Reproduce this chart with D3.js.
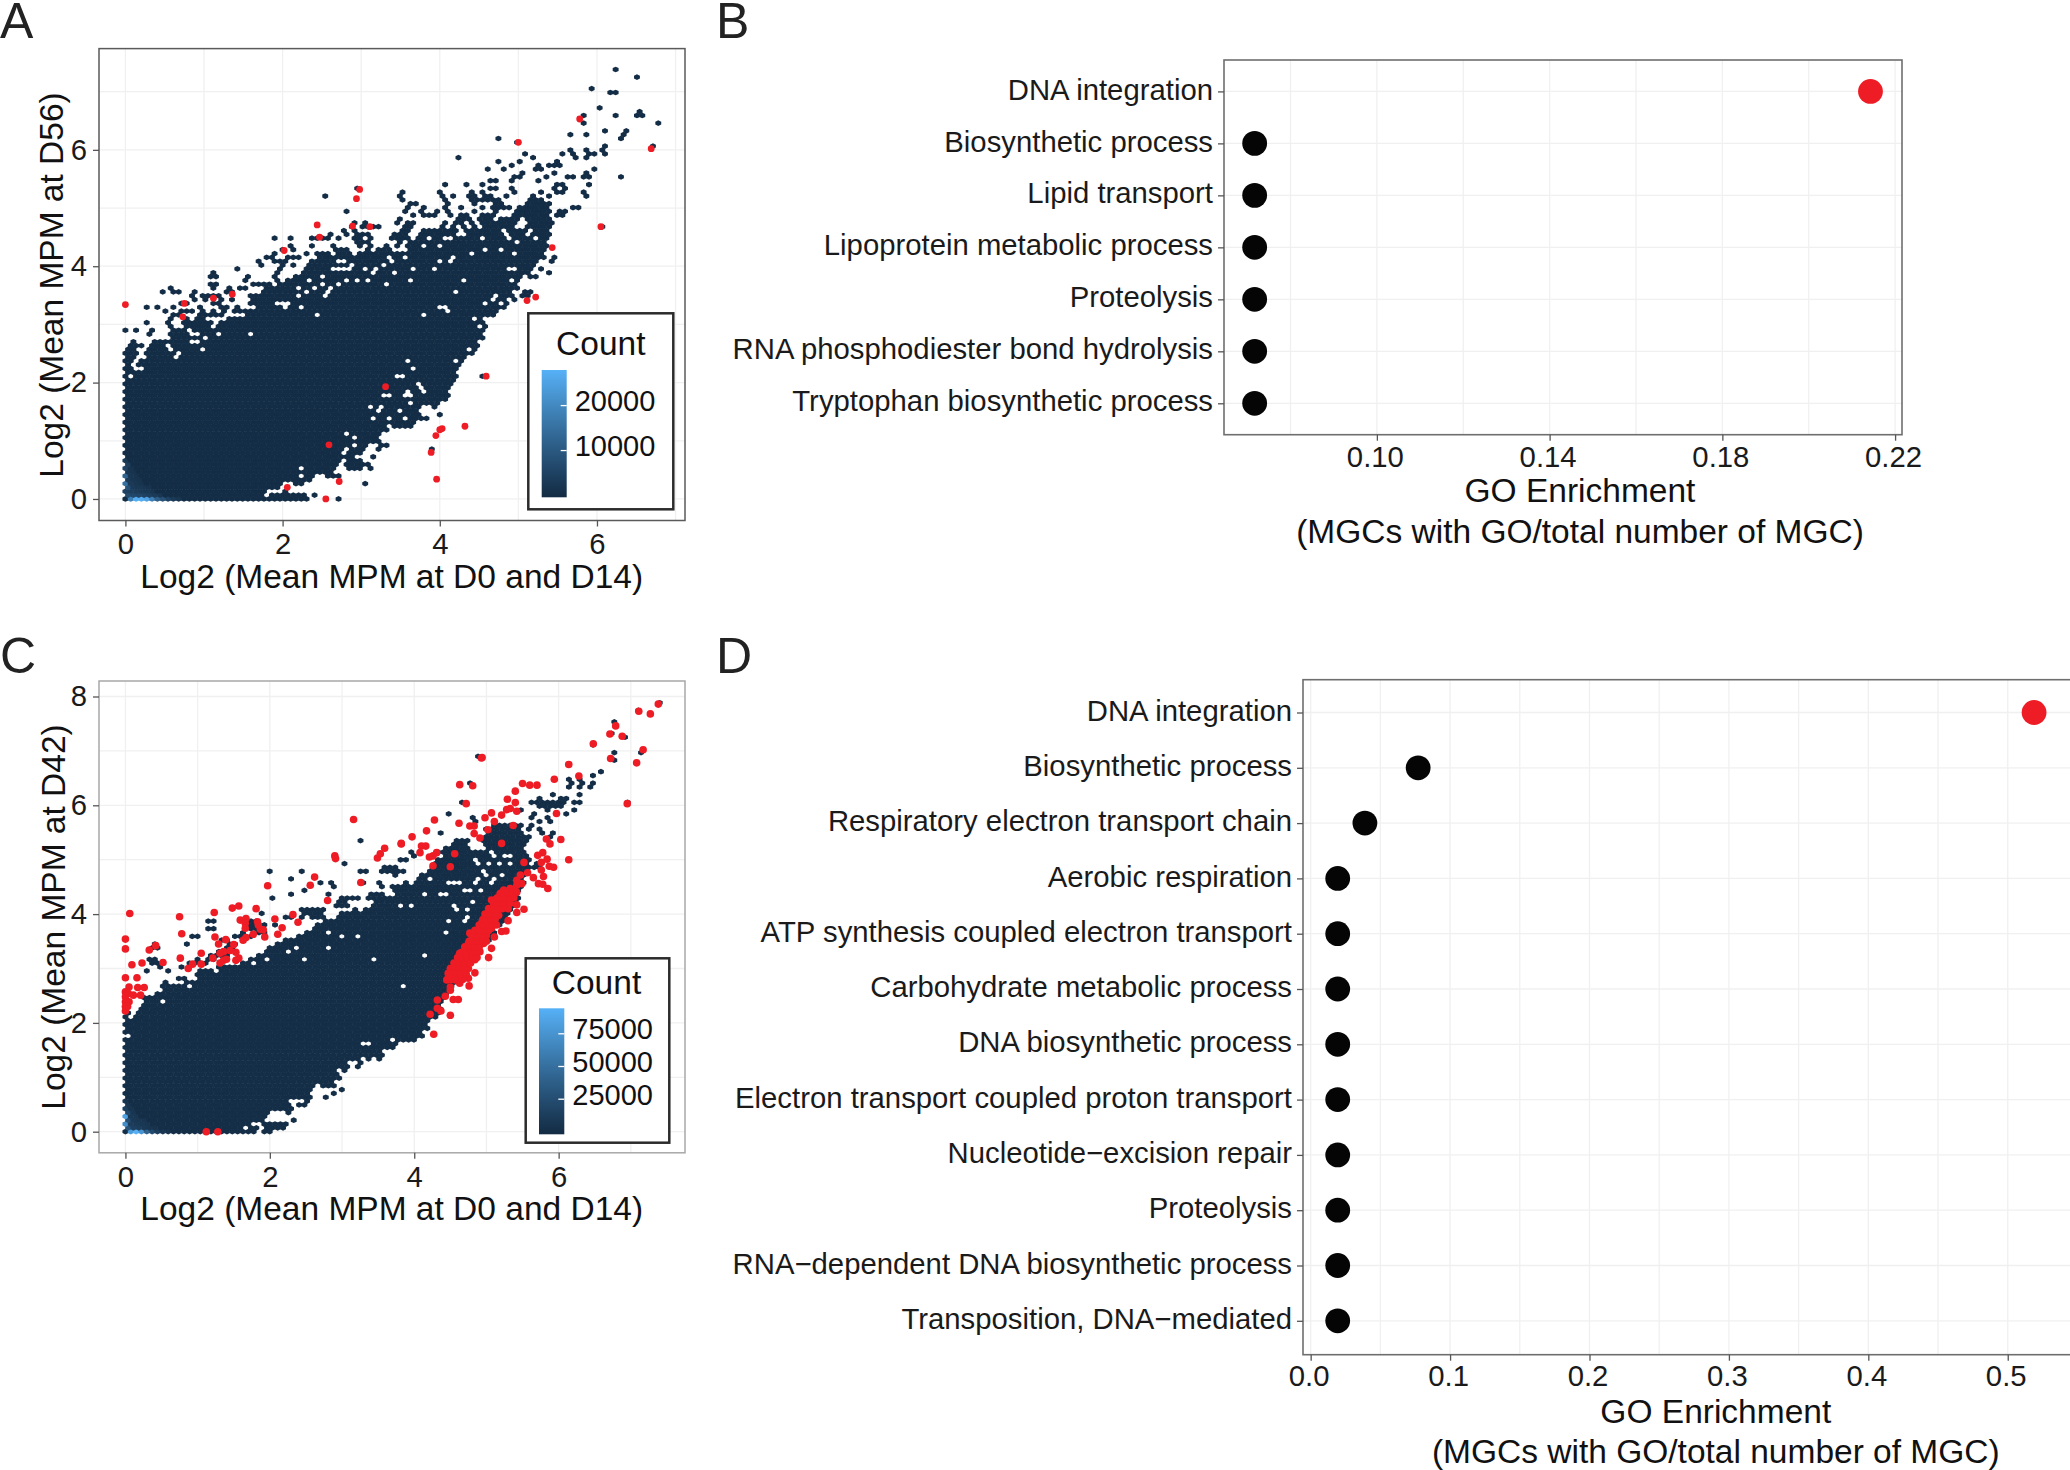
<!DOCTYPE html>
<html lang="en">
<head>
<meta charset="UTF-8">
<title>MGC expression and GO enrichment</title>
<script src="https://d3js.org/d3.v7.min.js"></script>
<style>
  html, body { margin: 0; padding: 0; background: #fff; }
  text { font-family: "Liberation Sans", Arial, sans-serif; }
</style>
</head>
<body>
<div id="figure"></div>
<script>
// ---- panel A: hex rows, bottom row first, each row is a list of x start/end pairs
const bodyA = [
[0,2.3],[0,1.67,1.72,1.72,1.85,2.3],[0,1.75,2.03,2.03],[0,1.9],[0,2.0,2.2,2.25],[0,2.17,2.27,2.32],
[0,2.15,2.28,2.38,2.55,2.68],[0,2.4,2.5,2.62],[0,2.18,2.26,2.65,2.88,2.95,3.11,3.11],[0,2.68,2.82,2.95,3.05,3.08],
[0,2.72,2.85,2.95],[0,2.78,2.87,2.9,3.13,3.16],[0,2.72,2.85,2.98],[0,2.75,2.9,3.02,3.2,3.2],
[0,2.7,2.78,2.88,2.95,3.05,3.28,3.32],[0,2.72,2.82,3.02,3.1,3.2],[0,2.85,2.95,3.2],[0,2.95,3.0,3.1,3.15,3.25],
[0,2.95,3.05,3.15,3.22,3.3],[0,3.0,3.1,3.3,3.45,3.62],[0,3.05,3.12,3.3,3.38,3.66],[0,3.1,3.2,3.32,3.4,3.48,3.62,3.8],
[0,3.15,3.22,3.35,3.42,3.5,3.6,3.7,4.01,4.01],[0,3.18,3.28,3.42,3.55,3.7],[0,3.2,3.3,3.6,3.68,3.72,3.95,3.95],
[0,3.25,3.32,3.55,3.7,4.0],[0,3.28,3.35,3.52,3.6,3.65,3.75,3.85,3.95,4.1],[0,3.32,3.4,3.55,3.7,4.1],
[0,3.35,3.42,3.6,3.65,3.75,3.85,4.1],[0,3.4,3.5,3.72,3.82,4.12],[0,3.58,3.62,4.15],[0,3.6,3.65,4.15],
[0,.06,.15,4.18],[0,4.2],[0,.08,.27,4.22],[0,.02,.17,4.25],[0,.1,.22,4.28],[0,.12,.3,4.33],
[0,0,.1,.15,.3,.6,.72,4.38],[0,0,.1,.12,.3,.5,.65,4.42],[.1,.2,.33,.47,.63,4.47],[.12,.12,.35,.5,.57,.88,.95,4.5],
[.6,.86,.95,4.53],[.33,.33,.6,.75,1.0,4.52],[0,0,.13,.13,.33,.33,.6,.66,.7,.75,.85,4.55],[.55,.55,.75,4.55],
[.27,.27,.55,.55,.75,1.1,1.2,4.53],[.58,.58,.75,.75,.9,1.0,1.35,4.6],[.6,.6,.68,.68,.95,1.2,1.55,4.68],
[.5,.5,.7,.78,.82,.82,.95,.95,1.1,1.15,1.25,1.25,1.4,1.45,1.55,4.72],
[.27,.27,.4,.4,.58,.58,.95,.95,1.22,1.27,1.45,1.45,1.7,4.8],[.7,.7,.75,.75,1.1,1.18,1.6,4.85],
[.85,.85,1.22,1.25,1.35,1.38,1.6,4.8,4.93,4.93],[1.0,1.05,1.15,1.2,1.62,4.75,4.85,4.9,5.06,5.1],
[.45,.45,.7,.7,.85,.9,1.35,1.35,1.78,4.85,5.06,5.13],[.55,.55,1.15,1.15,1.3,1.3,1.5,1.55,1.8,4.95],
[1.1,1.15,1.65,1.75,1.95,2.1,2.2,4.98],[2.1,5.0],[1.1,1.13,1.9,1.92,2.15,5.05,5.13,5.2],[1.15,1.15,1.9,1.95,2.25,5.1,5.36,5.36],
[1.4,1.45,1.95,2.0,2.3,5.15,5.27,5.27],[1.7,1.75,2.0,2.0,2.33,5.2],[1.68,1.72,2.02,2.05,2.4,5.25,5.4,5.4],
[1.8,1.85,2.1,2.15,2.45,5.3,5.44,5.44],[1.9,1.9,2.3,2.3,2.45,2.6,2.72,2.88,3.0,3.1,3.15,3.2,3.28,3.28,3.35,5.3],
[2.0,2.0,2.65,2.65,2.75,2.75,2.8,2.8,3.1,3.1,3.2,3.35,3.6,5.35],
[2.35,2.35,2.65,2.65,2.95,2.95,3.1,3.1,3.3,3.3,3.45,3.48,3.6,3.75,3.85,5.3,5.38,5.38],
[3.11,3.11,3.47,3.47,3.66,3.83,3.92,4.55,4.64,5.3],
[2.43,2.43,2.5,2.55,2.95,3.0,3.41,3.56,3.73,3.83,3.94,4.02,4.23,4.47,4.62,4.81,4.93,5.17,5.29,5.38],
[2.6,2.6,3.0,3.0,3.11,3.11,3.47,3.58,3.77,3.83,3.89,4.08,4.15,4.2,4.36,4.47,4.53,4.76,4.89,5.06,5.19,5.38],
[2.77,2.77,2.9,2.9,3.5,3.58,3.77,3.83,3.89,4.08,4.15,4.2,4.36,4.47,4.53,4.76,4.89,5.06,5.19,5.34],
[2.9,2.9,3.02,3.05,3.12,3.16,3.58,3.66,4.04,4.04,4.17,4.17,4.3,4.3,4.43,4.43,4.55,4.64,4.74,4.9,5.15,5.3,5.38,5.38],
[3.06,3.06,3.58,3.68,4.1,4.1,4.23,4.3,4.38,4.38,4.51,4.68,4.74,4.95,5.15,5.23,5.32,5.4],
[3.47,3.47,4.23,4.3,4.38,4.38,4.53,4.66,4.8,4.95,5.1,5.27,5.34,5.4],
[3.68,3.68,3.83,3.96,4.15,4.15,4.3,4.36,4.53,4.66,4.93,5.06,5.1,5.27,5.36,5.36,5.5,5.55],
[3.58,3.58,3.79,3.79,3.95,3.95,4.1,4.1,4.43,4.43,4.72,4.72,5.0,5.1,5.12,5.36,5.42,5.42,5.55,5.58],
[3.58,3.58,3.77,3.77,4.06,4.06,4.28,4.28,4.51,4.51,4.66,4.85,5.05,5.36,5.68,5.74],
[3.62,3.68,4.1,4.1,4.45,4.45,4.72,4.8,5.1,5.35,5.42,5.42],
[3.53,3.53,4.08,4.08,4.4,4.47,4.55,4.62,4.7,4.72,5.16,5.3],
[3.5,3.5,4.01,4.01,4.2,4.2,4.38,4.45,4.59,4.62,4.85,4.85,5.2,5.22,5.4,5.4,5.84,5.84]
];
// single bins away from the main cloud
const sparseA = [
[6.21,7.38],[6.48,7.26],[5.91,7.07],[6.14,7.0],[6.27,7.0],[6.03,6.75],[6.21,6.62],[5.8,6.62],[6.48,6.62],[6.51,6.68],
[6.58,6.56],[6.78,6.43],[5.8,6.49],[6.11,6.3],[6.38,6.3],[6.34,6.24],[6.31,6.17],[5.67,6.24],[5.87,6.24],[4.76,6.17],
[4.99,6.11],[6.71,6.05],[5.84,6.0],[5.87,5.95],[5.94,5.95],[6.11,6.05],[6.08,5.98],[6.11,5.92],[5.67,5.98],[5.7,5.92],
[5.74,5.86],[5.1,5.92],[5.57,5.92],[5.2,5.86],[5.87,5.86],[4.25,5.86],[5.03,5.79],[4.76,5.79],[4.92,5.73],[4.62,5.67],
[4.82,5.67],[5.27,5.73],[5.23,5.67],[5.3,5.67],[5.4,5.73],[5.46,5.73],[5.5,5.79],[5.53,5.73],[5.97,5.67],[5.46,5.6],
[5.06,5.6],[5.0,5.54],[4.96,5.54],[4.92,5.48],[5.36,5.54],[5.63,5.54],[5.7,5.54],[6.31,5.54],[5.87,5.6],[5.84,5.54],
[5.91,5.54],[4.66,5.48],[4.73,5.48],[5.27,5.48],[4.08,5.41],[4.35,5.41],[4.55,5.41],[5.91,5.41],[4.66,5.35],[4.73,5.35],
[4.92,5.35],[4.96,5.28],[5.5,5.41],[5.57,5.41],[5.46,5.35],[5.6,5.35],[5.5,5.28],[5.57,5.28],[4.01,5.28],[3.54,5.28],
[5.29,5.28],[5.84,5.28],[4.42,5.28],[4.38,5.22],[4.45,5.22],[4.55,5.28],[4.59,5.22],[4.62,5.22],[5.4,5.22],
[.61,3.56],[1.14,3.82],[1.09,3.69],[.84,3.5],[1.01,3.45],[1.28,3.56],[1.18,3.5],[1.54,3.82],[1.51,3.75],[1.45,3.62],
[1.75,3.69],[1.82,3.69],[1.92,3.75],[1.82,3.56],[1.69,4.07],[1.72,4.01],[1.89,4.07],[1.96,4.07],[1.97,3.95],[1.92,3.88],
[2.13,4.01],[2.19,4.14],[2.09,4.34],[2.13,4.26],[1.89,4.45],[2.09,4.45],[2.36,4.45],[2.6,4.52],[2.7,4.45],[2.83,4.58],
[2.94,4.77],[2.83,4.97],[2.56,5.22],[2.96,5.35],[3.2,4.65],[3.1,4.71],[3.47,4.77],[2.9,4.47],[2.93,4.58],[2.98,4.58],
[2.96,4.4],[3.0,4.4],[3.1,4.45],[3.1,4.33],[3.41,4.52],[6.05,4.65],[4.55,2.1],[3.88,.83],[2.7,0],[2.39,.06],[3.03,.26],
[3.13,.51],[5.34,4.34],[5.38,4.34],[5.44,4.14],[5.4,4.07],[5.27,3.95],[5.36,3.88],[5.13,3.82],[5.2,3.82],[5.13,3.56],[5.06,3.56]
];
// white gaps inside the cloud
const holesA = [
[3.91,3.95],[3.64,3.95],[3.61,3.75],[3.41,3.88],[3.3,3.69],[3.07,3.75],[2.94,3.75],[2.81,3.75],[3.13,3.88],[3.26,3.99],
[3.22,3.94],[3.03,3.95],[4.3,3.75],[4.18,3.56],[3.98,3.32],[4.04,3.32],[4.09,3.25],[3.78,3.18],[2.42,3.18],[2.22,3.31],
[2.03,3.32],[2.05,3.38],[1.92,3.38],[2.2,3.49],[2.52,3.49],[2.58,3.56],[2.63,3.62],[2.69,3.68],[2.28,3.56],[2.39,3.62],
[2.18,3.62],[2.5,3.69],[2.37,3.77],[3.61,2.36],[4.21,2.34],[4.36,2.6],[4.51,2.68],[4.47,3.07],[4.55,3.07],[4.53,2.96],
[4.55,3.38],[4.66,3.42],[4.72,3.49],[4.78,3.34],[4.89,3.77],[4.95,3.94],[4.9,3.97],[4.38,4.2],[3.98,4.08],[4.13,4.08],
[4.19,4.14],[4.55,4.26],[4.76,4.26],[4.98,4.2],[4.0,4.34],[4.83,4.57],[4.98,4.42],[3.53,4.15],[3.34,4.14],[3.41,4.11],
[2.71,4.11],[2.8,4.11],[2.62,3.94],[2.7,3.94],[2.78,3.94],[2.87,3.94],[2.54,3.85],[2.9,4.02],[.1,2.1],[1.58,2.86],
[2.43,3.18],[1.92,3.36],[2.03,3.33],[2.22,3.31],[.95,2.55],[.61,2.55],[.67,2.42],[.88,2.68],[1.01,2.79],[1.2,2.82],
[1.11,2.99],[2.22,.51],[3.13,1.59],[2.83,1.14],[3.3,1.77],[3.47,2.1],[3.78,3.18],[3.98,3.31],[3.61,2.36],[3.67,2.23],
[3.53,2.1],[3.74,1.96],[3.79,1.89],[3.62,1.82],[3.55,1.76]
];
// bins near the origin with a high count: x, y, count
const hotA = [
[.07,0,18000],[.14,0,27000],[.2,0,27000],[.27,0,25000],[.34,0,18000],[.41,0,11000],[.47,0,8000],[.54,0,5000],[.61,0,3000],[.68,0,2000],
[.03,.066,7000],[.1,.066,6000],[.17,.066,5500],[.24,.066,5000],[.31,.066,4000],[.37,.066,3000],[.44,.066,2000],
[0,.13,5000],[.07,.13,4000],[.14,.13,3500],[.2,.13,3000],[.27,.13,2500],[.34,.13,1800],
[.03,.2,8000],[.1,.2,3000],[.17,.2,2500],[.24,.2,2000],[.31,.2,1500],
[0,.26,15000],[.07,.26,3000],[.14,.26,2000],[.2,.26,1500],[.03,.33,3000],[.1,.33,2000],[.17,.33,1500],
[0,.4,12000],[.07,.4,2000],[.14,.4,1500],[.03,.46,2000],[.1,.46,1500],[0,.53,5000],[.07,.53,1500],[0,.59,4000],[0,.66,2500]
];
const redA = [
[0,3.34],[.75,3.36],[.73,3.13],[1.12,3.45],[1.36,3.52],[2.02,4.27],[2.44,4.71],[2.47,4.5],[2.89,4.69],[2.94,5.16],
[2.98,5.32],[3.11,4.68],[5.0,6.13],[5.78,6.53],[6.69,6.02],[6.05,4.68],[5.43,4.32],[5.22,3.47],[5.11,3.41],[4.59,2.11],
[3.31,1.93],[4.03,1.21],[4.0,1.19],[4.32,1.25],[3.95,1.09],[3.89,.8],[3.96,.34],[2.59,.93],[2.72,.3],[2.55,0],[2.06,.2]
];

// ---- panel C
const bodyC = [
[0,1.78,1.9,2.0],[0,1.62,1.72,1.8,1.95,2.2],[0,1.72,1.95,2.05,2.15,2.25],[0,1.87,2.33,2.33],[0,1.96],[0,1.98,2.26,2.26],[0,2.26],
[0,2.25,2.44,2.5],[0,2.25,2.5,2.55],[0,2.3,2.4,2.55,2.79,2.79],[0,2.55,2.88,2.88],[0,2.55,3.0,3.0],[0,2.48,2.62,2.62,2.72,2.85],
[0,2.45,2.55,2.6,2.72,2.85],[0,2.88,2.95,2.95],[0,2.75,2.85,2.95],[0,2.85,3.0,3.05],[0,2.85,2.9,3.05,3.2,3.2],[0,3.0,3.23,3.25],
[0,2.98,3.1,3.25,3.35,3.35,3.48,3.5],[0,3.05,3.12,3.42,3.5,3.55],[0,3.2,3.3,3.55],[0,3.3,3.38,3.45,3.5,3.72],[0,3.2,3.45,3.6,3.65,3.75],
[0,3.65,3.75,3.85,3.9,4.02],[0,4.08],[0,4.1],[0,4.15],[0,4.18],[0,4.2],[0,0,.12,4.27],[0,0,.18,4.3],[.2,4.33],[.23,4.36],[.3,4.4],
[.25,.3,.38,4.43],[.45,4.47],[.58,4.5],[.55,.6,.65,4.5],[.52,.52,.82,4.52],[.75,.8,1.0,4.55],[1.02,4.57],[.3,.3,.6,.6,1.05,4.6],
[.45,.45,.75,.8,1.3,4.62],[.4,.42,.88,.95,1.05,1.1,1.65,4.7],[.35,.38,.97,.97,1.15,1.2,1.72,4.75],[1.2,1.25,1.35,1.4,1.85,4.8],
[1.3,1.35,1.95,4.85],[.4,.45,1.4,1.5,2.0,4.9],[.43,.43,.85,.85,1.45,1.55,2.1,4.95],[1.35,1.4,1.6,1.65,2.25,5.0],[.95,1.0,1.55,1.75,2.4,5.05],
[1.6,1.65,1.85,1.9,2.5,5.08],[1.15,1.2,1.75,1.9,2.6,5.1],[1.7,1.95,2.05,2.1,2.7,5.15],[1.15,1.2,1.75,1.8,2.75,5.2],
[2.22,2.28,2.47,2.47,2.62,2.71,2.95,5.25],[1.85,1.9,2.47,2.71,3.0,5.28],[2.47,2.71,3.18,3.2,3.3,5.32],[2.9,3.08,3.43,5.37],[2.95,3.05,3.45,5.4],
[3.02,3.21,3.33,3.46,3.55,5.42],[3.4,3.52,3.8,5.42],[3.7,3.83,3.85,5.42],[3.58,3.58,3.7,3.83,3.92,5.45],[3.52,3.52,3.92,3.92,4.0,5.5],
[4.1,4.12,4.23,5.5],[3.74,3.74,3.95,3.95,4.1,5.5],[3.58,3.83,4.2,5.55],[3.6,3.7,4.25,5.55,5.67,5.7],[4.3,5.55,5.67,5.72],[3.8,3.92,4.35,5.55],
[4.0,4.0,4.45,5.55],[3.99,3.99,4.35,4.5,4.55,5.5],[4.45,4.78,4.85,5.5],[4.54,4.72,4.9,5.1,5.15,5.5],[4.58,4.72,4.95,5.55],[4.98,5.55,5.85,5.85],
[5.02,5.5],[4.98,4.98,5.05,5.45,5.6,5.6],[5.1,5.3,5.36,5.45,5.6,5.65]
];
const sparseC = [
[2.0,4.77],[2.33,4.68],[2.44,4.77],[2.03,4.28],[2.31,4.37],[2.48,4.42],[2.71,4.58],[2.84,4.61],[2.87,4.51],[2.81,4.37],
[3.07,4.96],[3.28,5.37],[3.24,4.77],[3.33,4.77],[3.28,4.61],[5.69,5.85],[5.61,5.78],[5.76,5.73],[5.84,5.78],[5.89,5.73],
[5.71,5.58],[5.78,5.51],[5.95,5.51],[6.07,5.85],[6.14,5.85],[5.65,6.05],[5.72,6.05],[5.8,6.05],[5.87,6.05],[5.95,6.05],
[6.02,6.05],[6.1,6.05],[6.23,6.05],[5.7,5.97],[5.8,5.97],[5.87,5.97],[5.95,5.97],[6.02,5.97],[5.76,6.11],[5.95,6.19],
[6.02,6.11],[6.09,6.11],[5.88,5.9],[6.24,5.91],[6.32,6.05],[6.24,6.05],[6.32,6.19],[6.17,6.47],[6.17,6.32],[6.2,6.39],
[6.32,6.47],[6.36,6.39],[6.32,6.32],[6.44,6.39],[6.47,6.32],[6.5,6.53],[6.61,6.59],[6.76,7.0],[7.11,7.0],[4.84,5.78],
[4.87,5.73],[4.5,5.85],[4.39,5.5],[5.5,5.91],[5.49,5.42],[7.38,7.89],[7.09,7.76],[6.71,7.35],[6.8,7.5],[6.91,7.27],
[6.46,7.14],[6.75,6.86],[6.99,6.05],[6.16,6.73],[4.91,6.88],[4.68,6.05],[4.8,6.4],[4.48,5.23]
];
const holesC = [
[4.89,5.3],[4.82,5.18],[4.89,5.18],[4.96,5.18],[5.07,5.15],[5.12,5.08],[5.07,5.05],[5.28,5.05],[5.35,5.05],[5.21,4.94],
[5.0,4.93],[5.33,4.96],[4.81,5.01],[4.5,4.56],[4.57,4.56],[4.64,4.56],[4.91,4.9],[4.95,4.81],[3.99,4.69],[4.06,4.75],
[4.22,4.62],[4.13,4.35],[4.4,4.35],[3.84,4.62],[4.7,4.41],[4.8,4.44],[4.84,4.56],[4.89,4.62],[4.95,4.47],[5.03,4.72],
[5.1,4.56],[5.14,4.62],[5.19,4.72],[4.54,4.13],[4.57,4.07],[4.73,4.07],[4.82,4.2],[4.8,4.25],[3.94,4.13],[3.8,4.13],
[4.71,3.89],[4.73,3.95],[4.47,3.88],[4.45,3.64],[4.14,3.26],[3.84,2.71],[3.43,3.19],[3.85,2.71],[2.81,3.4],[2.81,3.66],
[2.99,3.59],[3.21,3.59],[2.47,3.2],[2.22,3.28],[2.34,3.35],[1.96,3.19],[1.74,3.07],[1.29,2.93],[.55,2.38],[.07,1.76],
[.92,2.64],[4.42,4.37]
];
const hotC = [
[.07,0,80000],[.14,0,94000],[.22,0,75000],[.3,0,40000],[.37,0,22000],[.44,0,12000],[.52,0,7000],[.6,0,4000],
[0,.14,70000],[0,.28,85000],[.04,.07,30000],[.04,.21,26000],[.11,.07,15000],[.07,.14,12000],[.14,.14,10000],[.11,.21,9000],
[.18,.07,12000],[.25,.07,9000],[.04,.35,20000],[0,.42,14000],[.07,.28,8000],[.14,.28,7000],[.11,.35,6000],[.21,.14,8000],
[.28,.14,6000],[.18,.21,7000],[.25,.21,5500],[.04,.49,6000],[0,.56,5000],[.07,.42,5000],[.32,.07,6000],[.39,.07,4000]
];
const redC = [
[5.49,4.56],[5.42,4.53],[5.37,4.44],[5.33,4.47],[5.28,4.41],[5.24,4.44],[5.19,4.38],[5.17,4.29],[5.28,4.26],[5.21,4.23],
[5.12,4.26],[5.07,4.26],[5.37,4.34],[5.42,4.17],[5.52,4.09],[5.42,4.03],[5.19,4.14],[5.14,4.07],[5.1,4.01],[5.05,3.95],
[5.03,3.86],[4.94,3.86],[5.17,3.98],[5.3,3.88],[4.98,3.77],[4.91,3.71],[4.84,3.61],[4.77,3.65],[5.07,3.74],[5.21,3.68],
[5.27,3.69],[5.11,3.58],[5.0,3.61],[4.96,3.46],[4.75,3.46],[4.73,3.4],[4.91,3.31],[4.63,3.28],[4.84,3.16],[5.07,3.37],
[5.03,3.2],[4.68,3.16],[4.59,3.09],[4.54,2.97],[4.47,2.91],[4.45,2.79],[4.5,2.66],[4.57,2.79],[4.75,2.82],[4.84,2.92],
[4.63,2.73],[4.76,2.68],[4.43,2.49],[4.5,2.6],[4.32,2.42],[4.54,2.43],[4.61,2.43],[4.32,2.27],[4.37,2.22],[4.22,2.16],
[4.5,2.14],[4.27,1.79],
[4.5,3.0],[4.56,3.0],[4.62,3.0],[4.68,3.0],[4.75,3.0],[4.55,3.1],[4.62,3.1],[4.7,3.1],[4.78,3.1],[4.6,3.2],[4.67,3.2],[4.74,3.2],
[4.8,3.2],[4.87,3.2],[4.66,3.3],[4.72,3.3],[4.8,3.3],[4.85,3.3],[4.7,3.4],[4.77,3.4],[4.83,3.4],[4.9,3.4],[4.76,3.5],[4.82,3.5],
[4.88,3.5],[4.95,3.5],[5.0,3.5],[4.8,3.6],[4.88,3.6],[4.94,3.6],[4.84,3.7],[4.9,3.7],[4.98,3.7],[5.03,3.7],[4.9,3.8],[4.96,3.8],
[5.02,3.8],[5.08,3.8],[5.14,3.8],[4.95,3.9],[5.0,3.9],[5.07,3.9],[5.12,3.9],[4.98,4.0],[5.05,4.0],[5.12,4.0],[5.03,4.1],[5.1,4.1],
[5.16,4.1],[5.22,4.1],[5.3,4.1],[5.1,4.2],[5.15,4.2],[5.2,4.2],[5.27,4.2],[5.33,4.2],[5.15,4.3],[5.2,4.3],[5.25,4.3],[5.32,4.3],
[5.38,4.3],[5.22,4.4],[5.3,4.4],[5.35,4.4],[5.42,4.4],[4.47,2.8],[4.52,2.8],[4.6,2.8],[4.67,2.8],[4.5,2.9],[4.58,2.9],[4.64,2.9],[4.72,2.9],
[7.38,7.86],[7.11,7.73],[7.27,7.68],[6.79,7.46],[6.71,7.31],[6.88,7.27],[6.48,7.13],[7.17,7.02],[6.72,6.86],[7.08,6.78],[4.94,6.88],
[6.14,6.75],[6.28,6.54],[5.94,6.48],[4.63,6.38],[4.81,6.36],[5.5,6.4],[5.6,6.37],[5.7,6.37],[5.4,6.26],[5.29,6.11],[5.4,6.05],
[4.72,6.03],[6.95,6.03],[5.28,5.92],[5.33,5.94],[5.42,5.89],[5.07,5.86],[5.21,5.82],[5.97,5.85],[4.28,5.73],[4.98,5.77],[5.11,5.7],
[4.62,5.67],[5.37,5.63],[4.77,5.62],[4.83,5.62],[5.02,5.55],[4.17,5.53],[4.83,5.48],[4.91,5.4],[3.97,5.42],[5.83,5.38],[6.03,5.37],
[5.88,5.29],[5.21,5.3],[3.82,5.29],[4.1,5.25],[4.16,5.25],[4.08,5.13],[4.31,5.13],[4.26,5.07],[4.21,5.05],[4.56,5.11],[5.78,5.13],
[5.71,5.08],[6.14,5.0],[5.84,5.01],[5.52,4.95],[5.76,4.95],[4.26,4.89],[4.5,4.87],[5.87,4.88],[5.93,4.86],[5.76,4.81],[5.57,4.76],
[5.65,4.67],[5.79,4.69],[5.72,4.56],[5.78,4.55],[5.85,4.47],[5.47,4.72],[5.42,4.62],
[.06,4.01],[.75,3.95],[1.23,4.03],[1.48,4.11],[1.57,4.15],[1.81,4.1],[1.97,4.52],[2.56,4.53],[2.8,4.25],[3.26,4.58],[2.32,3.99],
[2.07,3.91],[2.39,3.85],[1.59,3.89],[1.67,3.92],[1.66,3.83],[1.66,3.74],[1.83,3.86],[1.84,3.8],[1.87,3.72],[1.91,3.71],[2.17,3.75],
[2.11,3.63],[1.77,3.63],[1.93,3.58],[1.67,3.57],[1.63,3.52],[.78,3.64],[1.24,3.58],[1.39,3.53],[1.29,3.45],[1.5,3.44],[0,3.54],[0,3.36],
[.42,3.42],[.33,3.34],[1.05,3.28],[1.36,3.31],[1.31,3.28],[1.45,3.33],[1.53,3.3],[.76,3.19],[1.21,3.19],[1.4,3.17],[1.36,3.15],[1.31,3.1],
[1.53,3.15],[1.57,3.19],[.09,3.07],[.23,3.1],[.52,3.11],[.93,3.08],[.87,3.0],[1.05,3.08],[0,2.83],[.16,2.83],[.05,2.66],[.17,2.65],
[.26,2.65],[0,2.57],[0,2.48],[0,2.39],[0,2.3],[0,2.22],[.04,2.54],[.11,2.51],[.21,2.51],[.05,2.39],[.03,2.3],[1.12,0],[1.28,0],
[2.62,4.68],[3.16,5.74],[4.93,6.87],[2.9,5.07],[2.91,5.02],[3.49,5.03],[3.53,5.11],[3.59,5.21],[3.82,5.3]
];

// ---- panels B and D
const termsB = ["DNA integration", "Biosynthetic process", "Lipid transport", "Lipoprotein metabolic process",
  "Proteolysis", "RNA phosphodiester bond hydrolysis", "Tryptophan biosynthetic process"];
const enrichB = [0.2143, 0.0717, 0.0717, 0.0717, 0.0717, 0.0717, 0.0717];
const termsD = ["DNA integration", "Biosynthetic process", "Respiratory electron transport chain", "Aerobic respiration",
  "ATP synthesis coupled electron transport", "Carbohydrate metabolic process", "DNA biosynthetic process",
  "Electron transport coupled proton transport", "Nucleotide\u2212excision repair", "Proteolysis",
  "RNA\u2212dependent DNA biosynthetic process", "Transposition, DNA\u2212mediated"];
const enrichD = [0.5189, 0.0771, 0.0389, 0.0194, 0.0194, 0.0194, 0.0194, 0.0194, 0.0194, 0.0194, 0.0194, 0.0194];
const ticksB = [0.10, 0.14, 0.18, 0.22];
const gridB = [0.08, 0.10, 0.12, 0.14, 0.16, 0.18, 0.20, 0.22];
const ticksD = [0, 0.1, 0.2, 0.3, 0.4, 0.5];
const gridD = [0, 0.05, 0.1, 0.15, 0.2, 0.25, 0.3, 0.35, 0.4, 0.45, 0.5];

const svg = d3.select("#figure").append("svg")
  .attr("width", 2070).attr("height", 1470).style("display", "block");

const RED = "#ee1c25", GRID = "#f0f0f0", LOW = "#132B43", HIGH = "#56B1F7";
const FONT_TICK = 29.3, FONT_TITLE = 33.5;

function label(txt, x, y, size, anchor, rot) {
  const t = svg.append("text").text(txt).attr("font-size", size).attr("fill", "#111")
    .attr("text-anchor", anchor || "middle");
  if (rot) t.attr("transform", "translate(" + x + "," + y + ") rotate(" + rot + ")");
  else t.attr("x", x).attr("y", y);
  return t;
}

function styleAxis(a) {
  a.select(".domain").remove();
  a.selectAll("line").attr("stroke", "#555").attr("stroke-width", 1.3);
  a.selectAll("text").attr("font-size", FONT_TICK).attr("fill", "#1a1a1a");
}

// snap everything to the hexagon lattice the same way the binning does
function binCells(o) {
  const cells = new Map();
  const key = (c, r) => c + "_" + r;
  const colOf = (xv, r) => Math.round(xv / o.colStep - (r % 2 ? 0.5 : 0));
  o.body.forEach((runs, r) => {
    for (let i = 0; i < runs.length; i += 2) {
      const a = colOf(runs[i], r), b = colOf(runs[i + 1], r);
      for (let c = a; c <= b; c++) cells.set(key(c, r), { c: c, r: r, n: 100 });
    }
  });
  o.holes.forEach(p => {
    const r = Math.round(p[1] / o.rowStep);
    cells.delete(key(colOf(p[0], r), r));
  });
  o.sparse.forEach(p => {
    const r = Math.round(p[1] / o.rowStep), c = colOf(p[0], r);
    cells.set(key(c, r), { c: c, r: r, n: 1 });
  });
  o.hot.forEach(p => {
    const r = Math.round(p[1] / o.rowStep), c = colOf(p[0], r);
    cells.set(key(c, r), { c: c, r: r, n: p[2] });
  });
  return Array.from(cells.values());
}

function hexPanel(o) {
  const g = svg.append("g");
  const x = d3.scaleLinear().domain(o.xDomain).range([99, 685]);
  const y = d3.scaleLinear().domain(o.yDomain).range(o.yRange);
  const color = d3.scaleLinear().domain(o.legend.domain).range([LOW, HIGH]).interpolate(d3.interpolateLab).clamp(true);

  g.selectAll(".gv").data(d3.range(0, 8)).join("line").attr("x1", d => x(d)).attr("x2", d => x(d))
    .attr("y1", o.yRange[1]).attr("y2", o.yRange[0]).attr("stroke", GRID).attr("stroke-width", 1.3);
  g.selectAll(".gh").data(o.gridY).join("line").attr("x1", 99).attr("x2", 685)
    .attr("y1", d => y(d)).attr("y2", d => y(d)).attr("stroke", GRID).attr("stroke-width", 1.3);
  g.append("rect").attr("x", 99).attr("y", o.yRange[1]).attr("width", 586).attr("height", o.yRange[0] - o.yRange[1])
    .attr("fill", "none").attr("stroke", o.border).attr("stroke-width", 1.5);

  styleAxis(g.append("g").attr("transform", "translate(0," + o.yRange[0] + ")")
    .call(d3.axisBottom(x).tickValues(o.ticksX).tickFormat(d3.format("d")).tickSize(6).tickPadding(7)));
  styleAxis(g.append("g").attr("transform", "translate(99,0)")
    .call(d3.axisLeft(y).tickValues(o.ticksY).tickFormat(d3.format("d")).tickSize(6).tickPadding(6)));

  const hw = 5.9 / 2, hh = 5.7 / 2;
  const hexagon = "m0," + (-hh) + "l" + hw + "," + (hh / 2) + "v" + hh + "l" + (-hw) + "," + (hh / 2) +
    "l" + (-hw) + "," + (-hh / 2) + "v" + (-hh) + "z";
  g.append("g").selectAll("path").data(binCells(o)).join("path")
    .attr("d", d => "M" + x((d.c + (d.r % 2 ? 0.5 : 0)) * o.colStep) + "," + y(d.r * o.rowStep) + hexagon)
    .attr("fill", d => color(d.n));

  g.append("g").selectAll("circle").data(o.red).join("circle")
    .attr("cx", d => x(d[0])).attr("cy", d => y(d[1])).attr("r", o.redR).attr("fill", RED);

  // legend
  const lg = o.legend, box = lg.box;
  g.append("rect").attr("x", box[0]).attr("y", box[1]).attr("width", box[2]).attr("height", box[3])
    .attr("fill", "#fff").attr("stroke", "#2b2b2b").attr("stroke-width", 2.5);
  const ly = d3.scaleLinear().domain(lg.domain).range([lg.bar[1] + lg.bar[3], lg.bar[1]]);
  const grad = svg.append("linearGradient").attr("id", lg.id)
    .attr("x1", 0).attr("x2", 0).attr("y1", 1).attr("y2", 0);
  d3.range(0, 1.01, 0.1).forEach(t => {
    grad.append("stop").attr("offset", t)
      .attr("stop-color", color(lg.domain[0] + t * (lg.domain[1] - lg.domain[0])));
  });
  g.append("rect").attr("x", lg.bar[0]).attr("y", lg.bar[1]).attr("width", lg.bar[2]).attr("height", lg.bar[3])
    .attr("fill", "url(#" + lg.id + ")");
  const la = g.append("g").attr("transform", "translate(" + (lg.bar[0] + lg.bar[2]) + ",0)")
    .call(d3.axisRight(ly).tickValues(lg.ticks).tickFormat(d3.format("d")).tickSize(-6).tickPadding(8));
  la.select(".domain").remove();
  la.selectAll("line").attr("stroke", "#fff").attr("stroke-width", 1.3);
  la.selectAll("text").attr("font-size", 29).attr("fill", "#111").attr("dy", "0.19em");
  label("Count", lg.titleX, lg.titleY, FONT_TITLE);
}

function dotPanel(o) {
  const g = svg.append("g");
  const x = d3.scaleLinear().domain(o.xDomain).range(o.xRange);
  const y = d3.scalePoint().domain(o.terms).range(o.yRange);

  g.selectAll(".gv").data(o.gridX).join("line").attr("x1", d => x(d)).attr("x2", d => x(d))
    .attr("y1", o.box[0]).attr("y2", o.box[1]).attr("stroke", GRID).attr("stroke-width", 1.3);
  g.selectAll(".gh").data(o.terms).join("line").attr("x1", o.xRange[0]).attr("x2", o.xRange[1])
    .attr("y1", d => y(d)).attr("y2", d => y(d)).attr("stroke", GRID).attr("stroke-width", 1.3);
  g.append("rect").attr("x", o.xRange[0]).attr("y", o.box[0])
    .attr("width", o.xRange[1] - o.xRange[0]).attr("height", o.box[1] - o.box[0])
    .attr("fill", "none").attr("stroke", "#6e6e6e").attr("stroke-width", 1.6);

  const xa = g.append("g").attr("transform", "translate(0," + o.box[1] + ")")
    .call(d3.axisBottom(x).tickValues(o.ticksX).tickFormat(d3.format(o.fmt)).tickSize(6).tickPadding(o.padX));
  const ya = g.append("g").attr("transform", "translate(" + o.xRange[0] + ",0)")
    .call(d3.axisLeft(y).tickSize(6).tickPadding(5));
  styleAxis(xa);
  styleAxis(ya);
  xa.selectAll("text").attr("dx", -2);
  ya.selectAll("text").attr("dy", "0.26em");

  g.selectAll("circle").data(o.terms).join("circle")
    .attr("cx", (d, i) => x(o.values[i])).attr("cy", d => y(d)).attr("r", 12.4)
    .attr("fill", (d, i) => i === 0 ? RED : "#050505");

  label("GO Enrichment", o.titleX, o.titleY[0], FONT_TITLE);
  label("(MGCs with GO/total number of MGC)", o.titleX, o.titleY[1], FONT_TITLE);
}

hexPanel({
  body: bodyA, sparse: sparseA, holes: holesA, hot: hotA, red: redA,
  colStep: 0.0678, rowStep: 0.0659, redR: 3.4, border: "#5a5a5a",
  xDomain: [-0.336, 7.12], yDomain: [-0.37, 7.74], yRange: [520.5, 48.6],
  gridY: d3.range(0, 8), ticksX: [0, 2, 4, 6], ticksY: [0, 2, 4, 6],
  legend: { id: "legA", domain: [-500, 27800], ticks: [10000, 20000], box: [528.3, 313.3, 145, 196],
    bar: [541.7, 370, 25, 127.3], titleX: 600.8, titleY: 355 }
});
label("Log2 (Mean MPM at D0 and D14)", 391.7, 588, FONT_TITLE);
label("Log2 (Mean MPM at D56)", 62.5, 285, FONT_TITLE, "middle", -90);

hexPanel({
  body: bodyC, sparse: sparseC, holes: holesC, hot: hotC, red: redC,
  colStep: 0.074, rowStep: 0.0704, redR: 3.8, border: "#a8a8a8",
  xDomain: [-0.366, 7.75], yDomain: [-0.388, 8.285], yRange: [1152.8, 681],
  gridY: d3.range(0, 9), ticksX: [0, 2, 4, 6], ticksY: [0, 2, 4, 6, 8],
  legend: { id: "legC", domain: [-2200, 94100], ticks: [25000, 50000, 75000], box: [525.7, 958.3, 143.6, 184.4],
    bar: [539, 1008.3, 25.3, 126], titleX: 596.5, titleY: 994 }
});
label("Log2 (Mean MPM at D0 and D14)", 391.7, 1220, FONT_TITLE);
label("Log2 (Mean MPM at D42)", 64.7, 917, FONT_TITLE, "middle", -90);

dotPanel({
  terms: termsB, values: enrichB, ticksX: ticksB, gridX: gridB, fmt: ".2f", padX: 5.3,
  xDomain: [0.0646, 0.2216], xRange: [1224, 1902], yRange: [91.4, 403.3], box: [60, 434.7],
  titleX: 1580, titleY: [502, 543]
});
dotPanel({
  terms: termsD, values: enrichD, ticksX: ticksD, gridX: gridD, fmt: ".1f", padX: 4.7,
  xDomain: [-0.0055, 0.5461], xRange: [1303, 2072], yRange: [712.5, 1320.8], box: [679.7, 1354.7],
  titleX: 1715.8, titleY: [1423, 1463]
});

// panel letters
[["A", 0, 38], ["B", 716, 38], ["C", 0, 673], ["D", 716, 673]].forEach(p => {
  svg.append("text").text(p[0]).attr("x", p[1]).attr("y", p[2]).attr("font-size", 50).attr("fill", "#222");
});
</script>
</body>
</html>
